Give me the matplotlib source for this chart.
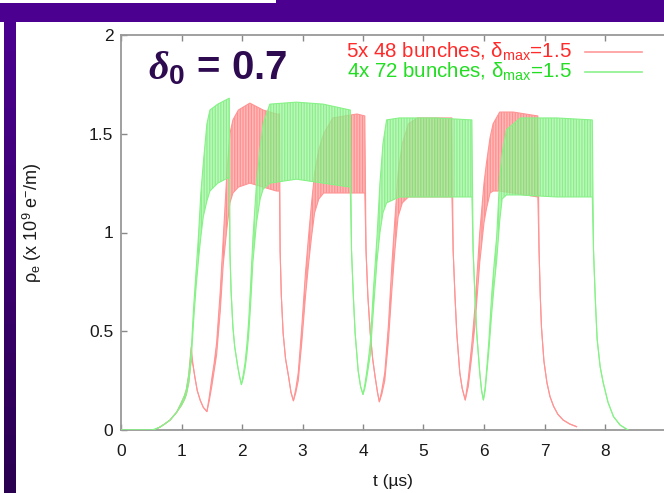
import numpy as np
import matplotlib
matplotlib.use("Agg")
import matplotlib.pyplot as plt
from matplotlib.lines import Line2D
from matplotlib.colors import LinearSegmentedColormap

plt.rcParams['font.family'] = ['Liberation Sans', 'DejaVu Sans']
plt.rcParams['mathtext.fontset'] = 'custom'
plt.rcParams['mathtext.rm'] = 'Liberation Sans'
plt.rcParams['mathtext.it'] = 'Liberation Serif:bold:italic'
plt.rcParams['mathtext.bf'] = 'Liberation Sans:bold'
plt.rcParams['hatch.linewidth'] = 0.9

# ---- data: time (us), lower / upper envelope of rho_e (1e9 e-/m)
red_t  = [0.55, 0.645, 0.72, 0.81, 0.92, 1.00, 1.05, 1.08, 1.12, 1.16,
          1.19, 1.22, 1.26, 1.31, 1.36, 1.42,
          1.46, 1.50, 1.54, 1.58, 1.64, 1.69, 1.75, 1.80, 1.85, 1.94, 2.13, 2.35, 2.57, 2.62,
          2.63, 2.65, 2.68, 2.72, 2.77, 2.81, 2.85,
          2.89, 2.93, 2.99, 3.05, 3.10, 3.15, 3.20, 3.27, 3.35, 3.50, 3.90, 4.03,
          4.05, 4.08, 4.12, 4.16, 4.20, 4.24, 4.27,
          4.31, 4.36, 4.42, 4.48, 4.53, 4.58, 4.65, 4.75, 4.90, 5.47,
          5.49, 5.52, 5.55, 5.60, 5.64, 5.69,
          5.74, 5.80, 5.85, 5.93, 6.00, 6.04, 6.10, 6.15, 6.26, 6.48, 6.89,
          6.91, 6.93, 6.95, 6.99, 7.04, 7.09, 7.15, 7.22, 7.31, 7.42, 7.53]
red_lo = [0.0, 0.015, 0.03, 0.05, 0.09, 0.125, 0.155, 0.18, 0.24, 0.36,
          0.33, 0.27, 0.20, 0.15, 0.115, 0.093,
          0.15, 0.22, 0.30, 0.38, 0.60, 0.84, 1.02, 1.15, 1.20, 1.23, 1.25, 1.23, 1.21, 1.21,
          0.91, 0.68, 0.49, 0.36, 0.27, 0.19, 0.148,
          0.19, 0.25, 0.45, 0.68, 0.84, 0.98, 1.10, 1.17, 1.20, 1.20, 1.20, 1.20,
          0.91, 0.68, 0.49, 0.36, 0.27, 0.19, 0.143,
          0.18, 0.25, 0.45, 0.72, 0.92, 1.08, 1.15, 1.18, 1.18, 1.18,
          0.91, 0.68, 0.49, 0.29, 0.21, 0.152,
          0.22, 0.38, 0.53, 0.85, 1.05, 1.12, 1.20, 1.21, 1.21, 1.20, 1.18,
          0.91, 0.68, 0.52, 0.35, 0.24, 0.17, 0.12, 0.08, 0.05, 0.03, 0.017]
red_hi = [0.0, 0.015, 0.03, 0.05, 0.09, 0.14, 0.175, 0.205, 0.28, 0.42,
          0.33, 0.27, 0.20, 0.15, 0.115, 0.093,
          0.17, 0.26, 0.34, 0.44, 0.70, 0.97, 1.30, 1.50, 1.57, 1.62, 1.655, 1.62, 1.60, 1.60,
          0.91, 0.68, 0.49, 0.36, 0.27, 0.19, 0.148,
          0.21, 0.29, 0.53, 0.80, 0.98, 1.15, 1.30, 1.42, 1.50, 1.58, 1.60, 1.59,
          0.91, 0.68, 0.49, 0.36, 0.27, 0.19, 0.143,
          0.20, 0.29, 0.53, 0.85, 1.08, 1.30, 1.45, 1.55, 1.58, 1.58,
          0.91, 0.68, 0.49, 0.29, 0.21, 0.152,
          0.26, 0.44, 0.62, 1.00, 1.25, 1.35, 1.48, 1.55, 1.61, 1.61, 1.59,
          0.91, 0.68, 0.52, 0.35, 0.24, 0.17, 0.12, 0.08, 0.05, 0.03, 0.017]

grn_t  = [0.00, 0.50, 0.56, 0.645, 0.72, 0.81, 0.92, 1.00, 1.05, 1.08, 1.12, 1.16,
          1.20, 1.24, 1.28, 1.32, 1.36, 1.42, 1.47, 1.60, 1.79,
          1.80, 1.82, 1.85, 1.88, 1.93, 1.96, 1.99,
          2.02, 2.05, 2.08, 2.11, 2.14, 2.18, 2.24, 2.30, 2.35, 2.46, 2.90, 3.34, 3.79,
          3.81, 3.84, 3.87, 3.92, 3.96, 4.00,
          4.03, 4.06, 4.09, 4.12, 4.17, 4.23, 4.28, 4.33, 4.39, 4.60, 5.20, 5.80,
          5.82, 5.85, 5.88, 5.93, 5.96, 5.99,
          6.02, 6.05, 6.08, 6.13, 6.17, 6.21, 6.26, 6.30, 6.37, 6.60, 7.20, 7.79,
          7.81, 7.84, 7.87, 7.92, 7.97, 8.05, 8.14, 8.25, 8.38]
grn_lo = [0.0, 0.0, 0.004, 0.015, 0.03, 0.05, 0.09, 0.125, 0.155, 0.18, 0.24, 0.35,
          0.55, 0.72, 0.86, 0.98, 1.08, 1.16, 1.21, 1.25, 1.28,
          0.91, 0.70, 0.52, 0.42, 0.32, 0.27, 0.23,
          0.26, 0.31, 0.38, 0.48, 0.62, 0.85, 1.05, 1.17, 1.22, 1.25, 1.27, 1.25, 1.23,
          0.91, 0.68, 0.49, 0.30, 0.22, 0.18,
          0.21, 0.26, 0.32, 0.38, 0.60, 0.85, 1.00, 1.10, 1.15, 1.18, 1.18, 1.18,
          0.91, 0.68, 0.49, 0.29, 0.20, 0.152,
          0.20, 0.30, 0.40, 0.60, 0.74, 0.86, 1.06, 1.17, 1.19, 1.19, 1.18, 1.18,
          0.91, 0.66, 0.46, 0.32, 0.24, 0.14, 0.068, 0.025, 0.0]
grn_hi = [0.0, 0.0, 0.004, 0.015, 0.03, 0.05, 0.09, 0.14, 0.175, 0.205, 0.28, 0.40,
          0.62, 0.80, 0.98, 1.20, 1.35, 1.55, 1.62, 1.65, 1.68,
          0.91, 0.70, 0.52, 0.42, 0.32, 0.27, 0.23,
          0.28, 0.34, 0.43, 0.55, 0.72, 0.97, 1.25, 1.43, 1.55, 1.65, 1.66, 1.65, 1.62,
          0.91, 0.68, 0.49, 0.30, 0.22, 0.18,
          0.23, 0.29, 0.36, 0.44, 0.70, 0.97, 1.25, 1.45, 1.57, 1.58, 1.58, 1.57,
          0.91, 0.68, 0.49, 0.29, 0.20, 0.152,
          0.22, 0.33, 0.45, 0.70, 0.85, 0.98, 1.28, 1.40, 1.52, 1.58, 1.58, 1.57,
          0.91, 0.66, 0.46, 0.32, 0.24, 0.14, 0.068, 0.025, 0.0]

x_ticks = [0, 1, 2, 3, 4, 5, 6, 7, 8]
y_ticks = [0, 0.5, 1, 1.5, 2]
y_ticklabels = ['0', '0.5', '1', '1.5', '2']
red_label = '5x 48 bunches, δ$_\\mathrm{max}$=1.5'
grn_label = '4x 72 bunches, δ$_\\mathrm{max}$=1.5'

W, H = 664, 493
fig = plt.figure(figsize=(W / 100, H / 100), dpi=100)

# decorative purple frame
purple = '#4B0090'
fig.patches.append(plt.Rectangle((0, (H - 22) / H), 1, 22 / H, transform=fig.transFigure,
                                 facecolor=purple, edgecolor='none', zorder=0))
fig.patches.append(plt.Rectangle((0, (H - 3) / H), 276 / W, 3 / H, transform=fig.transFigure,
                                 facecolor='white', edgecolor='none', zorder=1))
bar = fig.add_axes([4 / W, 0, 12 / W, (H - 22) / H])
grad = np.linspace(0, 1, 256).reshape(-1, 1)
cm = LinearSegmentedColormap.from_list('pb', ['#4B0090', '#2A0050'])
bar.imshow(grad, aspect='auto', cmap=cm, extent=[0, 1, 0, 1])
bar.axis('off')

ax = fig.add_axes([121 / W, 63 / H, (W - 121) / W, (430 - 35) / H])

red_line = '#FF9494'
grn_line = '#86F286'
ax.fill_between(red_t, red_lo, red_hi, facecolor=(1.0, 0.66, 0.66, 0.8),
                edgecolor=(1.0, 0.45, 0.45, 0.6), hatch='||||||', linewidth=0, zorder=2)
ax.plot(red_t, red_hi, color=red_line, lw=0.8, zorder=2.1)
ax.plot(red_t, red_lo, color=red_line, lw=0.8, zorder=2.1)
ax.fill_between(grn_t, grn_lo, grn_hi, facecolor=(0.62, 0.96, 0.62, 0.7),
                edgecolor=(0.36, 0.90, 0.36, 0.5), hatch='||||||', linewidth=0, zorder=3)
ax.plot(grn_t, grn_hi, color=grn_line, lw=0.8, zorder=3.1)
ax.plot(grn_t, grn_lo, color=grn_line, lw=0.8, zorder=3.1)

ax.set_xlim(0, (W - 121) / 60.5)
ax.set_ylim(0, 2)
ax.set_xticks(x_ticks)
ax.set_yticks(y_ticks)
ax.set_yticklabels(y_ticklabels)
ax.tick_params(axis='both', direction='in', length=4, width=1, color='#888888',
               labelsize=12.5, labelcolor='#1a1a1a')
ax.tick_params(axis='x', top=True, pad=10)
ax.tick_params(axis='y', pad=5.5)
for s in ['left', 'bottom', 'top']:
    ax.spines[s].set_color('#999999')
    ax.spines[s].set_linewidth(1.3)
ax.spines['right'].set_visible(False)

ax.set_xlabel('t (µs)', fontsize=12.5, color='#1a1a1a', labelpad=11)
ax.set_ylabel('ρ$_\\mathrm{e}$ (x 10$^\\mathrm{9}$ e$^\\mathrm{-}$/m)', fontsize=13,
              color='#1a1a1a')
ax.yaxis.set_label_coords((44 - 121) / 543, (430 - 223) / 395)

# legend drawn gnuplot-style
fig.text(572 / W, 1 - 57 / H, red_label, color='#FF2A2A', fontsize=14.8,
         ha='right', va='baseline')
fig.text(572 / W, 1 - 77 / H, grn_label, color='#22DD22', fontsize=14.8,
         ha='right', va='baseline')
fig.add_artist(Line2D([585 / W, 642 / W], [1 - 52 / H, 1 - 52 / H], color='#FF9A9A',
                      lw=1.2, transform=fig.transFigure))
fig.add_artist(Line2D([585 / W, 642 / W], [1 - 72 / H, 1 - 72 / H], color='#8CF08C',
                      lw=1.2, transform=fig.transFigure))

fig.text(148 / W, 1 - 79 / H, r'$\delta_{\mathbf{0}}$ = 0.7', color='#2E0A50',
         fontsize=29, fontweight='bold', ha='left', va='baseline')

fig.savefig('out.png', dpi=100)
